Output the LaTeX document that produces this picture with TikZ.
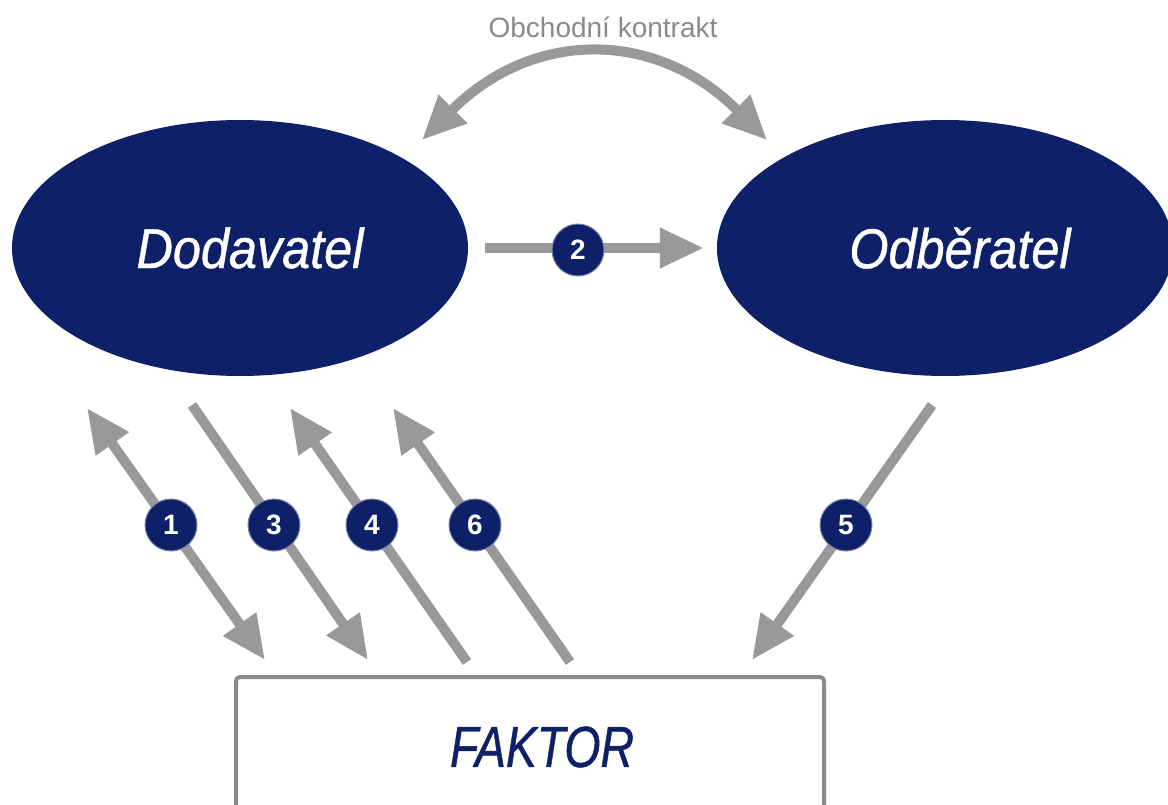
\documentclass[tikz,border=0pt]{standalone}
\usepackage{fontspec}
\setmainfont{Liberation Sans}
\newfontfamily\condfont[FakeStretch=0.9,FakeBold=0.8]{Liberation Sans}
\newfontfamily\narrowfont[FakeStretch=0.8,FakeBold=0.8]{Liberation Sans}
\usetikzlibrary{arrows.meta,shapes.geometric}
\definecolor{navy}{RGB}{14,32,104}
\definecolor{arrowgray}{RGB}{153,153,153}
\definecolor{labelgray}{RGB}{138,138,138}

\begin{document}
\begin{tikzpicture}[x=1pt, y=-1pt,
    >={Triangle[length=44pt,width=38pt]},
    party/.style={ellipse, fill=navy, minimum width=456pt, minimum height=256pt, inner sep=0pt,
        text=white, font=\condfont\itshape\fontsize{56}{60}\selectfont},
    flow/.style={draw=arrowgray, line width=10pt},
    num/.style={circle, fill=navy, draw=navy!55, line width=1pt, minimum size=52pt, inner sep=0pt,
        text=white, font=\bfseries\fontsize{28}{28}\selectfont}]
    \useasboundingbox (0,0) rectangle (1168,805);

    % parties
    \node[party] (dod) at (240,248) {\hspace*{20pt}Dodavatel};
    \node[party] (odb) at (945,248) {\hspace*{30pt}Odběratel};
    \node[draw=labelgray, line width=4pt, rounded corners=4pt, minimum width=588pt, minimum height=140pt,
        text=navy, font=\narrowfont\itshape\fontsize{58}{60}\selectfont] (fak) at (530,747) {\hspace*{24pt}FAKTOR};

    % contract
    \node[text=labelgray, font=\fontsize{28}{28}\selectfont] (obch) at (603,27) {Obchodní kontrakt};
    \coordinate (k1) at (422,140);
    \coordinate (k2) at (767,140);
    \draw[flow, <->] (k1) .. controls (533,29) and (656,29) .. (k2);

    % flows
    \draw[flow, ->, shorten <=17pt, shorten >=13pt] (dod) -- (odb);
    \coordinate (d1) at (87,408);  \coordinate (f1) at (265,660);
    \coordinate (d3) at (192,405); \coordinate (f3) at (368,660);
    \coordinate (d4) at (290,408); \coordinate (f4) at (467,662);
    \coordinate (d6) at (393,408); \coordinate (f6) at (570,662);
    \coordinate (o5) at (932,405); \coordinate (f5) at (752,660);
    \draw[flow, <->] (d1) -- (f1);
    \draw[flow, ->] (d3) -- (f3);
    \draw[flow, ->] (f4) -- (d4);
    \draw[flow, ->] (f6) -- (d6);
    \draw[flow, ->] (o5) -- (f5);

    % numbers
    \node[num] (n1) at (171,525) {1};
    \node[num] (n2) at (578,250) {2};
    \node[num] (n3) at (274,525) {3};
    \node[num] (n4) at (372,525) {4};
    \node[num] (n5) at (846,525) {5};
    \node[num] (n6) at (475,525) {6};
\end{tikzpicture}
\end{document}
